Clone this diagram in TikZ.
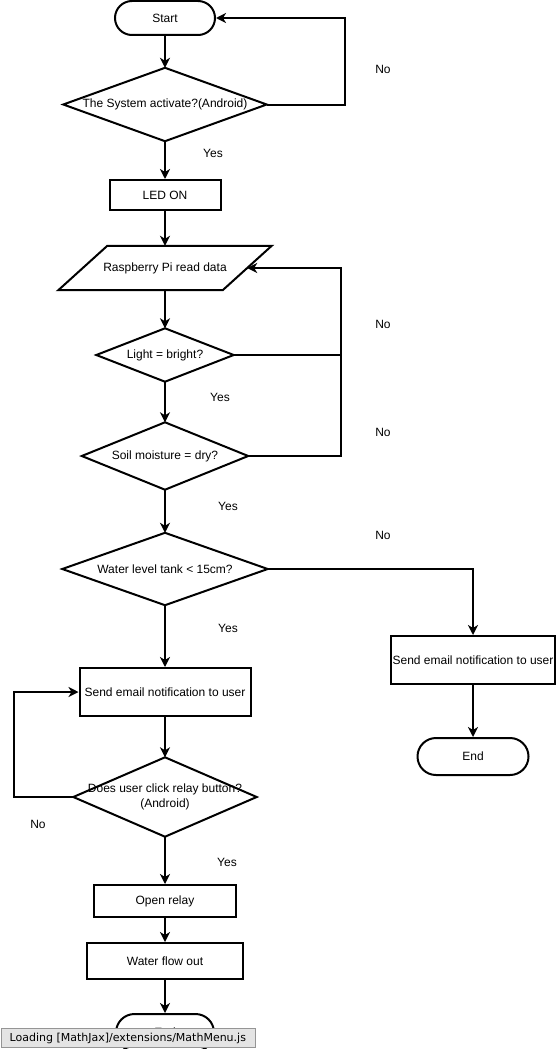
\documentclass[tikz,border=0pt]{standalone}
\usepackage{fontspec}
\setmainfont{Liberation Sans}
\newfontfamily\loadfont{DejaVu Sans}
\usetikzlibrary{arrows.meta}
\definecolor{loadfill}{HTML}{E4E4E4}
\definecolor{loadline}{HTML}{959595}
\begin{document}
\begin{tikzpicture}[x=1pt,y=-1pt,
  every node/.style={font=\fontsize{12}{15}\selectfont, inner sep=0pt},
  ln/.style={line width=2pt, line join=miter},
  thinln/.style={line width=1.2pt},
  arr/.style={ln, -{Stealth[length=10pt,width=10pt,inset=3pt]}},
  procbox/.style={draw, line width=2pt, rectangle},
  term/.style={draw, line width=2pt, rectangle},
  lbl/.style={font=\fontsize{12}{15}\selectfont}
]
\useasboundingbox (0,0) rectangle (559,1049);

% nodes
\node[term, rounded corners=17pt, minimum width=100pt, minimum height=34pt] (start) at (165,18) {Start};
\node[minimum width=203pt, minimum height=73pt] (d1) at (165,104.5) {The System activate?(Android)};
\node[procbox, minimum width=111pt, minimum height=30pt] (led) at (165,195) {LED ON};
\node[minimum width=164pt, minimum height=44pt] (para) at (165,268) {Raspberry Pi read data};
\node[minimum width=137pt, minimum height=53pt] (d2) at (165,355) {Light = bright?};
\node[minimum width=166pt, minimum height=67pt] (d3) at (165,456) {Soil moisture = dry?};
\node[minimum width=205pt, minimum height=72pt] (d4) at (165,569) {Water level tank < 15cm?};
\node[procbox, minimum width=164pt, minimum height=48pt] (box1) at (473,660) {Send email notification to user};
\node[term, rounded corners=18.5pt, minimum width=111pt, minimum height=37pt] (end1) at (473,756.5) {End};
\node[procbox, minimum width=171pt, minimum height=48pt] (box2) at (165,692) {Send email notification to user};
\node[minimum width=183pt, minimum height=79pt, align=center] (d5) at (165,797) {Does user click relay button?\\(Android)};
\node[procbox, minimum width=142pt, minimum height=32pt] (relay) at (165,901) {Open relay};
\node[procbox, minimum width=156pt, minimum height=36pt] (flow) at (165,961) {Water flow out};
\node[term, rounded corners=18.5pt, minimum width=98pt, minimum height=37pt] (end2) at (165,1032.5) {End};

% diamond outlines
\foreach \n in {d1,d2,d3,d4,d5}
  \draw[ln] (\n.north) -- (\n.east) -- (\n.south) -- (\n.west) -- cycle;
% parallelogram outline
\draw[ln] ([xshift=24.5pt]para.north west) -- ([xshift=24.5pt]para.north east)
  -- ([xshift=-24.5pt]para.south east) -- ([xshift=-24.5pt]para.south west) -- cycle;

% helper coordinates
\coordinate (c1) at (345,18);
\coordinate (c2) at (341,268);
\coordinate (c3) at (14,797);

% connectors
\draw[arr] (start.south) -- (d1.north);
\draw[arr] (d1.east) -| (c1) -- (start.east);
\draw[arr] (d1.south) -- (led.north);
\draw[arr] (led.south) -- (para.north);
\draw[arr] (para.south) -- (d2.north);
\draw[thinln] (d2.east) -- (d2.east -| c2);
\draw[arr] (d2.south) -- (d3.north);
\draw[arr] (d3.east) -| (c2) -- (para.east);
\draw[arr] (d3.south) -- (d4.north);
\draw[arr] (d4.east) -| (box1.north);
\draw[arr] (box1.south) -- (end1.north);
\draw[arr] (d4.south) -- (box2.north);
\draw[arr] (box2.south) -- (d5.north);
\draw[arr] (d5.west) -- (c3) |- (box2.west);
\draw[arr] (d5.south) -- (relay.north);
\draw[arr] (relay.south) -- (flow.north);
\draw[arr] (flow.south) -- (end2.north);

% labels
\node[lbl] (l1) at (383,69) {No};
\node[lbl] (l2) at (213,153) {Yes};
\node[lbl] (l3) at (383,324) {No};
\node[lbl] (l4) at (220,397) {Yes};
\node[lbl] (l5) at (383,432) {No};
\node[lbl] (l6) at (228,506) {Yes};
\node[lbl] (l7) at (383,535) {No};
\node[lbl] (l8) at (228,628) {Yes};
\node[lbl] (l9) at (38,824) {No};
\node[lbl] (l10) at (227,862) {Yes};

% loading overlay
\node[draw=loadline, fill=loadfill, line width=1pt, anchor=north west,
  minimum width=254pt, minimum height=19pt] (load) at (1,1028) {};
\node[anchor=west, font=\loadfont\fontsize{11}{13}\selectfont] (loadtxt) at (9.5,1038) {Loading [MathJax]/extensions/MathMenu.js};
\end{tikzpicture}
\end{document}
